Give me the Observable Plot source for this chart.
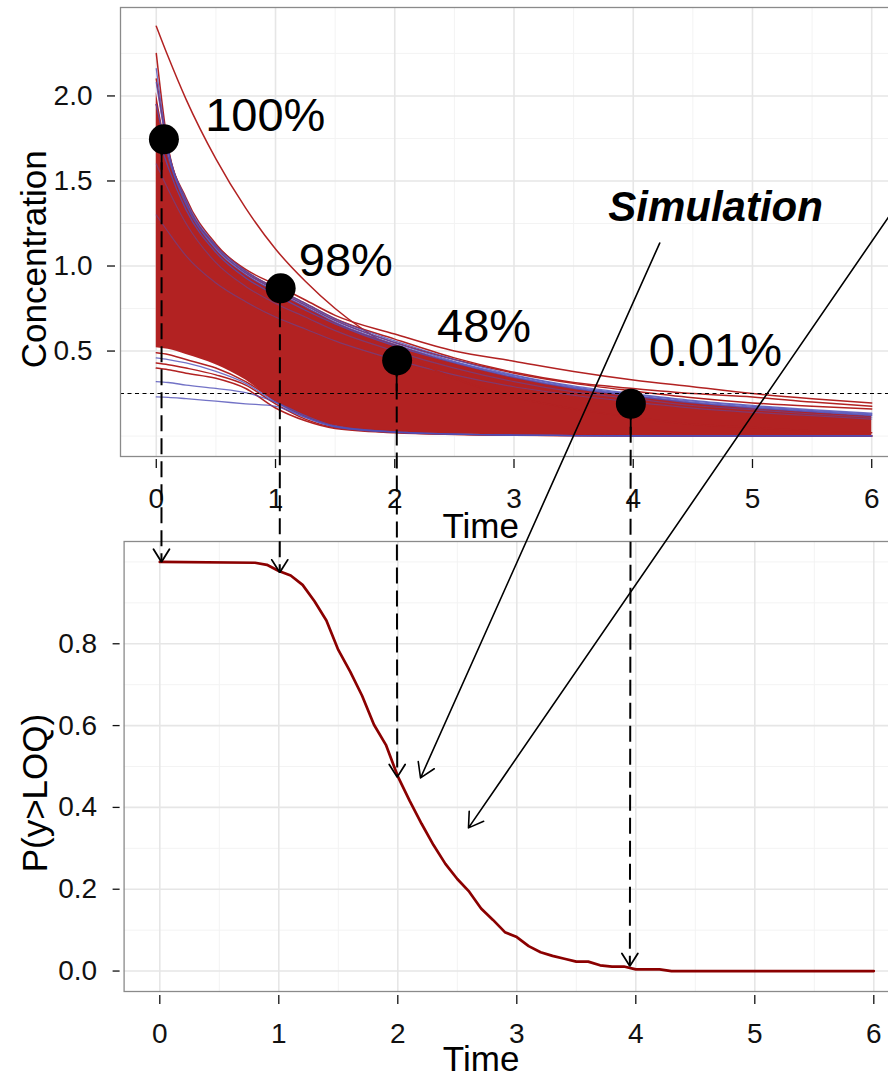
<!DOCTYPE html>
<html><head><meta charset="utf-8">
<script src="https://cdn.jsdelivr.net/npm/d3@7"></script>
<script src="https://cdn.jsdelivr.net/npm/@observablehq/plot@0.6"></script>
<style>
html,body{margin:0;padding:0;background:#fff;overflow:hidden;}
#chart{position:relative;width:888px;height:1074px;overflow:hidden;background:#fff;}
#chart svg{position:absolute;left:0;top:0;max-width:none;}
</style></head><body><div id="chart"></div>
<script>
// ---------- Top panel: simulated concentration curves ----------
const times = [0, 0.1, 0.25, 0.5, 0.75, 1, 1.25, 1.5, 2, 2.5, 3, 3.5, 4, 4.5, 5, 5.5, 6];
// envelope of the dense bundle of simulated profiles
const massUpper = [2.02, 1.66, 1.37, 1.10, 0.95, 0.85, 0.76, 0.67, 0.54, 0.43, 0.345, 0.28, 0.235, 0.195, 0.165, 0.14, 0.118];
const massLower = [0.52, 0.51, 0.48, 0.42, 0.33, 0.20, 0.11, 0.06, 0.025, 0.012, 0.006, 0.004, 0.003, 0.002, 0.002, 0.002, 0.002];
// individual visible profiles (red)
const curveOutlier = [2.41, 2.23, 1.98, 1.63, 1.34, 1.10, 0.91, 0.75, 0.51, 0.34, 0.23, 0.16, 0.11, 0.07, 0.05, 0.03, 0.02];
const curveR1 = [1.95, 1.62, 1.36, 1.12, 0.98, 0.89, 0.80, 0.71, 0.60, 0.50, 0.44, 0.38, 0.33, 0.29, 0.25, 0.22, 0.195];
const curveR2 = [2.25, 1.70, 1.40, 1.13, 0.97, 0.87, 0.78, 0.69, 0.57, 0.46, 0.375, 0.315, 0.28, 0.25, 0.23, 0.20, 0.176];
const curveR3 = [2.10, 1.68, 1.38, 1.11, 0.96, 0.86, 0.77, 0.68, 0.55, 0.45, 0.37, 0.31, 0.265, 0.225, 0.195, 0.175, 0.16];
const curveL1 = [0.40, 0.39, 0.37, 0.34, 0.28, 0.165, 0.09, 0.045, 0.02, 0.01, 0.005, 0.003, 0.002, 0.001, 0.001, 0.001, 0.001];
const curveL2 = [0.43, 0.42, 0.40, 0.36, 0.30, 0.19, 0.10, 0.05, 0.022, 0.011, 0.006, 0.003, 0.002, 0.001, 0.001, 0.001, 0.001];
const curveL4 = [0.49, 0.48, 0.45, 0.40, 0.32, 0.21, 0.12, 0.06, 0.028, 0.013, 0.007, 0.004, 0.002, 0.001, 0.001, 0.001, 0.001];
// individual visible profiles (blue)
const curveP1 = [2.16, 1.69, 1.39, 1.12, 0.97, 0.87, 0.78, 0.69, 0.56, 0.45, 0.36, 0.295, 0.25, 0.21, 0.18, 0.155, 0.135];
const curveP2 = [2.08, 1.67, 1.37, 1.11, 0.96, 0.86, 0.77, 0.68, 0.55, 0.44, 0.355, 0.29, 0.245, 0.205, 0.175, 0.15, 0.13];
const curveP3 = [1.95, 1.64, 1.36, 1.10, 0.95, 0.85, 0.76, 0.67, 0.54, 0.435, 0.35, 0.285, 0.24, 0.20, 0.17, 0.145, 0.125];
const curveP4 = [1.80, 1.58, 1.33, 1.08, 0.93, 0.83, 0.74, 0.66, 0.53, 0.43, 0.345, 0.28, 0.235, 0.195, 0.165, 0.142, 0.12];
const curveP5 = [1.60, 1.45, 1.25, 1.02, 0.88, 0.78, 0.70, 0.62, 0.50, 0.40, 0.32, 0.26, 0.22, 0.18, 0.155, 0.13, 0.11];
const curveP6 = [1.30, 1.20, 1.06, 0.90, 0.79, 0.70, 0.63, 0.56, 0.45, 0.36, 0.29, 0.24, 0.20, 0.165, 0.14, 0.12, 0.10];
const curveL3 = [0.46, 0.45, 0.43, 0.38, 0.31, 0.20, 0.11, 0.055, 0.025, 0.012, 0.006, 0.003, 0.002, 0.001, 0.001, 0.001, 0.001];
const curveB1 = [0.32, 0.315, 0.30, 0.28, 0.255, 0.20, 0.12, 0.06, 0.025, 0.012, 0.006, 0.003, 0.002, 0.001, 0.001, 0.001, 0.001];
const curveB2 = [0.23, 0.228, 0.22, 0.205, 0.19, 0.175, 0.11, 0.055, 0.022, 0.011, 0.006, 0.003, 0.002, 0.001, 0.001, 0.001, 0.001];

const loq = 0.25;
const pointTimes = [0.064, 1.043, 2.02, 3.98];
const pointConc = [1.745, 0.869, 0.445, 0.19];
const pctLabels = ["100%", "98%", "48%", "0.01%"];
const pctLabelT = [0.41, 1.195, 2.355, 4.13];
const pctLabelC = [1.794, 0.941, 0.553, 0.412];

const xTicks = [0, 1, 2, 3, 4, 5, 6];
const xMinor = [0.5, 1.5, 2.5, 3.5, 4.5, 5.5];
const topYTicks = [0.5, 1.0, 1.5, 2.0];
const topYMinor = [0, 0.25, 0.75, 1.25, 1.75, 2.25];

// ---------- Bottom panel: probability above LOQ ----------
const probT = [0, 0.8, 0.9, 1.0, 1.1, 1.2, 1.3, 1.4, 1.5, 1.6, 1.7, 1.8, 1.9, 2.0, 2.1, 2.2, 2.3, 2.4, 2.5, 2.6, 2.7, 2.8, 2.9, 3.0, 3.1, 3.2, 3.3, 3.4, 3.5, 3.6, 3.7, 3.8, 3.9, 4.0, 4.1, 4.2, 4.3, 6.0];
const probP = [1, 0.998, 0.993, 0.978, 0.967, 0.944, 0.904, 0.857, 0.785, 0.732, 0.673, 0.602, 0.553, 0.476, 0.416, 0.360, 0.308, 0.262, 0.225, 0.194, 0.153, 0.125, 0.095, 0.083, 0.061, 0.046, 0.037, 0.030, 0.023, 0.023, 0.014, 0.011, 0.011, 0.004, 0.004, 0.004, 0.0, 0.0];
const botYTicks = [0, 0.2, 0.4, 0.6, 0.8];
const botYMinor = [0.1, 0.3, 0.5, 0.7, 0.9, 1.0];

// ---------- Annotation arrows (from top panel to bottom panel) ----------
const dashFromT = [0.045, 1.037, 2.016, 3.979];
const dashFromC = [1.745, 0.869, 0.445, 0.19];
const dashToT = [0.014, 1.008, 1.995, 3.95];
const dashToP = [1.0, 0.974, 0.474, 0.012];
const simFromT = [4.222, 6.3];
const simFromC = [1.135, 1.45];
const simToT = [2.191, 2.594];
const simToP = [0.472, 0.35];
const simLabel = "Simulation";
const simLabelT = 3.79, simLabelC = 1.265;

// ---------- build ----------
const FONT = '"Liberation Sans", Arial, Helvetica, sans-serif';
const RED = "#b22222", BLUE = "#4f4fb8", DARKRED = "#8b0000";
const GRID_MAJ = "#e6e6e6", GRID_MIN = "#f3f3f3", BORDER = "#8a8a8a", TXT = "#000";

const redDefs = {curveOutlier, curveR1, curveR2, curveR3, curveL1, curveL2, curveL4};
const blueDefs = {curveP1, curveP2, curveP3, curveP4, curveL3, curveB1, curveB2};
const faintDefs = {curveP5, curveP6};
const rows = defs => Object.entries(defs).flatMap(([name, vals]) => vals.map((c, i) => ({name, t: times[i], c})));
const massRows = times.map((t, i) => ({t, lo: massLower[i], hi: massUpper[i]}));
const pts = pointTimes.map((t, i) => ({t, c: pointConc[i]}));
const labs = pctLabels.map((s, i) => ({s, t: pctLabelT[i], c: pctLabelC[i]}));
const probRows = probT.map((t, i) => ({t, p: probP[i]}));

const baseStyle = {fontFamily: FONT, background: "transparent", maxWidth: "none", overflow: "visible", color: TXT};
const TICK_FS = 28;

const topPlot = Plot.plot({
  width: 907, height: 1074, marginTop: 7, marginBottom: 618, marginLeft: 120, marginRight: 0,
  style: baseStyle,
  x: {domain: [-0.3, 6.3]},
  y: {domain: [-0.12, 2.52]},
  marks: [
    Plot.ruleX(xMinor, {stroke: GRID_MIN, strokeWidth: 1}),
    Plot.ruleY(topYMinor, {stroke: GRID_MIN, strokeWidth: 1}),
    Plot.ruleX(xTicks, {stroke: GRID_MAJ, strokeWidth: 1.6}),
    Plot.ruleY(topYTicks, {stroke: GRID_MAJ, strokeWidth: 1.6}),
    Plot.areaY(massRows, {x: "t", y1: "lo", y2: "hi", fill: RED, curve: "monotone-x", clip: true}),
    Plot.line(rows(faintDefs), {x: "t", y: "c", z: "name", stroke: BLUE, strokeOpacity: 0.5, strokeWidth: 1.2, curve: "monotone-x", clip: true}),
    Plot.line(rows(redDefs), {x: "t", y: "c", z: "name", stroke: RED, strokeWidth: 1.5, curve: "monotone-x", clip: true}),
    Plot.line(rows(blueDefs), {x: "t", y: "c", z: "name", stroke: BLUE, strokeOpacity: 0.8, strokeWidth: 1.3, curve: "monotone-x", clip: true}),
    Plot.ruleY([loq], {stroke: "#000", strokeWidth: 1.1, strokeDasharray: "4,3.5"}),
    Plot.frame({stroke: BORDER, strokeWidth: 1.3}),
    Plot.dot(pts, {x: "t", y: "c", r: 15, fill: "#000", stroke: null}),
    Plot.text(labs, {x: "t", y: "c", text: "s", fontSize: 47, textAnchor: "start", lineAnchor: "bottom", fill: "#000"}),
    Plot.text([simLabel], {x: () => simLabelT, y: () => simLabelC, text: d => d, fontSize: 42, fontWeight: "bold", fontStyle: "italic", textAnchor: "start", lineAnchor: "bottom", fill: "#000"}),
    Plot.axisX(xTicks, {tickSize: 9, dy: 3, tickPadding: 20, fontSize: TICK_FS, tickFormat: "d", label: null, color: "#111", strokeWidth: 1.3}),
    Plot.axisY(topYTicks, {tickSize: 8, dx: -5, tickPadding: 15, fontSize: TICK_FS, tickFormat: ".1f", label: null, color: "#111", strokeWidth: 1.3}),
    Plot.text(["Concentration"], {frameAnchor: "left", y: () => 1.04, text: d => d, rotate: -90, dx: -75, textAnchor: "middle", lineAnchor: "bottom", fontSize: 35, fill: "#000"}),
    Plot.text(["Time"], {frameAnchor: "bottom", x: () => 2.72, text: d => d, dy: 81, textAnchor: "middle", lineAnchor: "bottom", fontSize: 35, fill: "#000"})
  ]
});

const bottomPlot = Plot.plot({
  width: 909, height: 1074, marginTop: 541, marginBottom: 83, marginLeft: 123.6, marginRight: 0,
  style: baseStyle,
  x: {domain: [-0.3, 6.3]},
  y: {domain: [-0.05, 1.05]},
  marks: [
    Plot.ruleX(xMinor, {stroke: GRID_MIN, strokeWidth: 1}),
    Plot.ruleY(botYMinor, {stroke: GRID_MIN, strokeWidth: 1}),
    Plot.ruleX(xTicks, {stroke: GRID_MAJ, strokeWidth: 1.6}),
    Plot.ruleY(botYTicks, {stroke: GRID_MAJ, strokeWidth: 1.6}),
    Plot.frame({stroke: BORDER, strokeWidth: 1.3}),
    Plot.line(probRows, {x: "t", y: "p", stroke: DARKRED, strokeWidth: 2.7}),
    Plot.axisX(xTicks, {tickSize: 9, dy: 4, tickPadding: 19, fontSize: TICK_FS, tickFormat: "d", label: null, color: "#111", strokeWidth: 1.3}),
    Plot.axisY(botYTicks, {tickSize: 7, dx: -4, tickPadding: 16, fontSize: TICK_FS, tickFormat: ".1f", label: null, color: "#111", strokeWidth: 1.3}),
    Plot.text(["P(y>LOQ)"], {frameAnchor: "left", y: () => 0.435, text: d => d, rotate: -90, dx: -77.6, textAnchor: "middle", lineAnchor: "bottom", fontSize: 35, fill: "#000"}),
    Plot.text(["Time"], {frameAnchor: "bottom", x: () => 2.70, text: d => d, dy: 79, textAnchor: "middle", lineAnchor: "bottom", fontSize: 35, fill: "#000"})
  ]
});

// overlay: arrows linking the two panels, positioned through both panels' scales
const tx = topPlot.scale("x"), ty = topPlot.scale("y"), bx = bottomPlot.scale("x"), by = bottomPlot.scale("y");
const dashRows = dashFromT.map((t, i) => ({
  x1: tx.apply(t), y1: ty.apply(dashFromC[i]), x2: bx.apply(dashToT[i]), y2: by.apply(dashToP[i])
}));
const simRows = simFromT.map((t, i) => ({
  x1: tx.apply(t), y1: ty.apply(simFromC[i]), x2: bx.apply(simToT[i]), y2: by.apply(simToP[i])
}));
const overlay = Plot.plot({
  width: 888, height: 1074, margin: 0,
  style: baseStyle,
  x: {domain: [0, 888], range: [0, 888], axis: null},
  y: {domain: [0, 1074], range: [0, 1074], axis: null},
  marks: [
    Plot.link(dashRows, {x1: "x1", y1: "y1", x2: "x2", y2: "y2", stroke: "#000", strokeWidth: 2, strokeDasharray: "16,7"}),
    Plot.arrow(dashRows, {x1: "x1", y1: "y1", x2: "x2", y2: "y2", stroke: "#000", strokeWidth: 1.8, headLength: 12.5, headAngle: 64, strokeDasharray: "30,100000"}),
    Plot.arrow(simRows, {x1: "x1", y1: "y1", x2: "x2", y2: "y2", stroke: "#000", strokeWidth: 1.6, headLength: 15.5, headAngle: 64})
  ]
});

const el = document.getElementById("chart");
el.append(bottomPlot, topPlot, overlay);
</script>
</body></html>
